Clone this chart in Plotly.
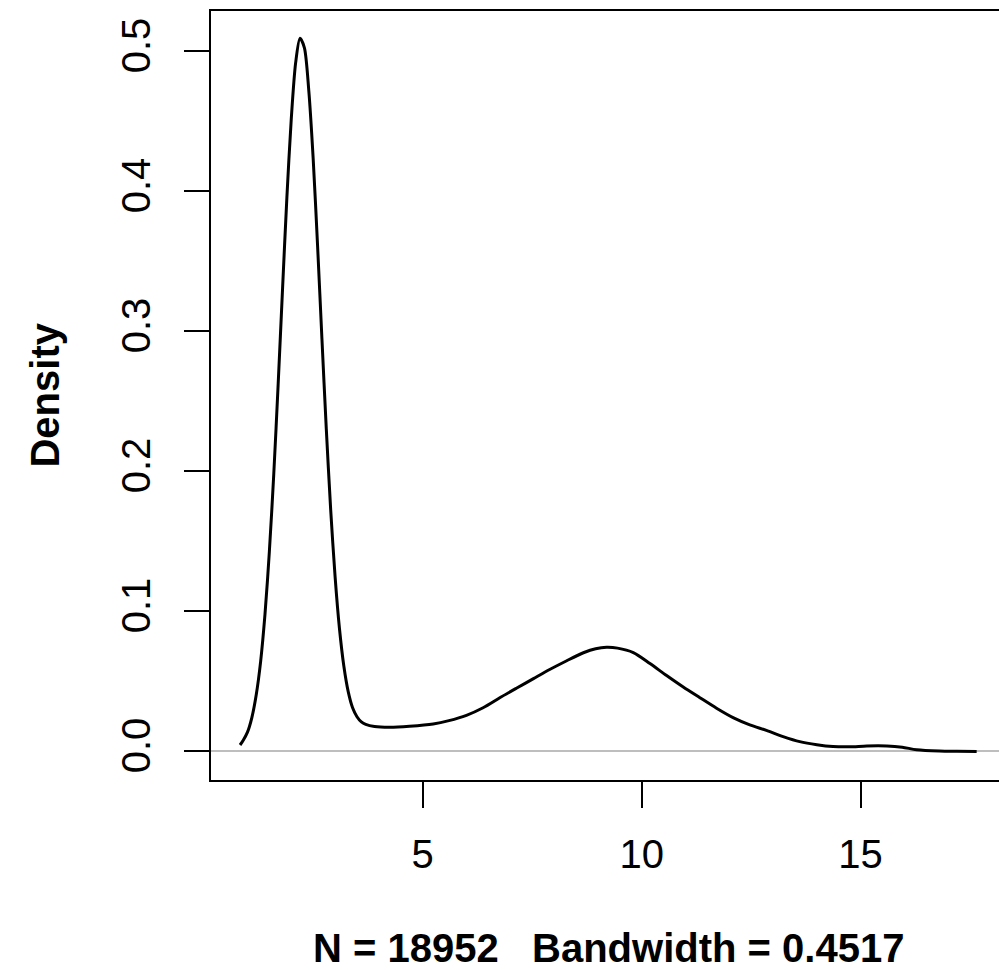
import plotly.graph_objects as go

# Kernel density estimate values
x_vals = [0.83, 0.9, 1.0, 1.1, 1.2, 1.3, 1.4, 1.5, 1.6, 1.7, 1.8, 1.9, 2.0, 2.1, 2.2,
          2.3, 2.4, 2.5, 2.6, 2.7, 2.8, 2.9, 3.0, 3.1, 3.2, 3.3, 3.4, 3.5, 3.6, 3.7,
          3.9, 4.25, 4.7, 5.24, 5.6, 6.0, 6.38, 6.77, 7.15, 7.53, 7.9, 8.29, 8.67,
          8.95, 9.2, 9.45, 9.81, 10.19, 10.57, 10.95, 11.33, 11.71, 12.1, 12.47,
          12.85, 13.23, 13.61, 14.0, 14.37, 14.75, 15.14, 15.6, 15.95, 16.28, 16.8,
          17.2, 17.65]
density_vals = [0.0046, 0.0078, 0.0138, 0.0242, 0.0405, 0.0642, 0.098, 0.143, 0.198,
                0.262, 0.330, 0.396, 0.452, 0.492, 0.5095, 0.5026, 0.472, 0.4235,
                0.3616, 0.2948, 0.2302, 0.1726, 0.125, 0.0878, 0.061, 0.0427, 0.0312,
                0.0248, 0.0211, 0.0193, 0.0178, 0.0173, 0.0180, 0.0196, 0.0220, 0.0258,
                0.0312, 0.0385, 0.0453, 0.052, 0.0585, 0.0648, 0.0705, 0.0734, 0.0744,
                0.0738, 0.0706, 0.0628, 0.0542, 0.0460, 0.0384, 0.0309, 0.0240, 0.0190,
                0.0150, 0.0106, 0.0070, 0.0048, 0.0035, 0.0033, 0.0039, 0.0039, 0.0030,
                0.0012, 0.0003, 0.0001, 0.0]

x_ticks = [5, 10, 15]
y_ticks = [0.0, 0.1, 0.2, 0.3, 0.4, 0.5]
y_tick_text = ["0.0", "0.1", "0.2", "0.3", "0.4", "0.5"]
x_label = "N = 18952   Bandwidth = 0.4517"
y_label = "Density"

FONT = "Liberation Sans, Arial, Helvetica, sans-serif"

fig = go.Figure()
fig.add_trace(go.Scatter(x=x_vals, y=density_vals, mode="lines",
                         line=dict(color="black", width=3, shape="spline", smoothing=0.8),
                         hoverinfo="skip", showlegend=False))

fig.update_layout(
    width=999, height=970,
    margin=dict(l=211, r=0, t=11, b=190),
    paper_bgcolor="white", plot_bgcolor="white",
    font=dict(family=FONT, size=40, color="black"),
    showlegend=False,
)
fig.update_xaxes(
    range=[0.167, 18.16], tickmode="array", tickvals=x_ticks,
    ticks="outside", ticklen=26, tickwidth=2, tickcolor="black",
    showline=True, linewidth=2, linecolor="black", mirror=True,
    showgrid=False, zeroline=False,
    tickfont=dict(family=FONT, size=40, color="black"),
    ticklabelstandoff=12,
)
fig.update_yaxes(
    range=[-0.0204, 0.5289], tickmode="array", tickvals=y_ticks, ticktext=y_tick_text,
    ticks="outside", ticklen=25, tickwidth=2, tickcolor="black",
    showline=True, linewidth=2, linecolor="black", mirror=False,
    showgrid=False, zeroline=True, zerolinecolor="#BEBEBE", zerolinewidth=1.5,
    tickangle=-90,
    tickfont=dict(family=FONT, size=40, color="black"),
    ticklabelstandoff=18,
)
fig.add_annotation(text="<b>" + y_label + "</b>", xref="paper", yref="paper",
                   x=-0.2119, y=0.5, textangle=-90, showarrow=False,
                   xanchor="center", yanchor="middle",
                   font=dict(family=FONT, size=40, color="black"))
fig.add_annotation(text="<b>" + x_label + "</b>", xref="paper", yref="paper",
                   x=0.5045, y=-0.2185, showarrow=False,
                   xanchor="center", yanchor="middle",
                   font=dict(family=FONT, size=40, color="black"))

fig.write_html("out.html")
